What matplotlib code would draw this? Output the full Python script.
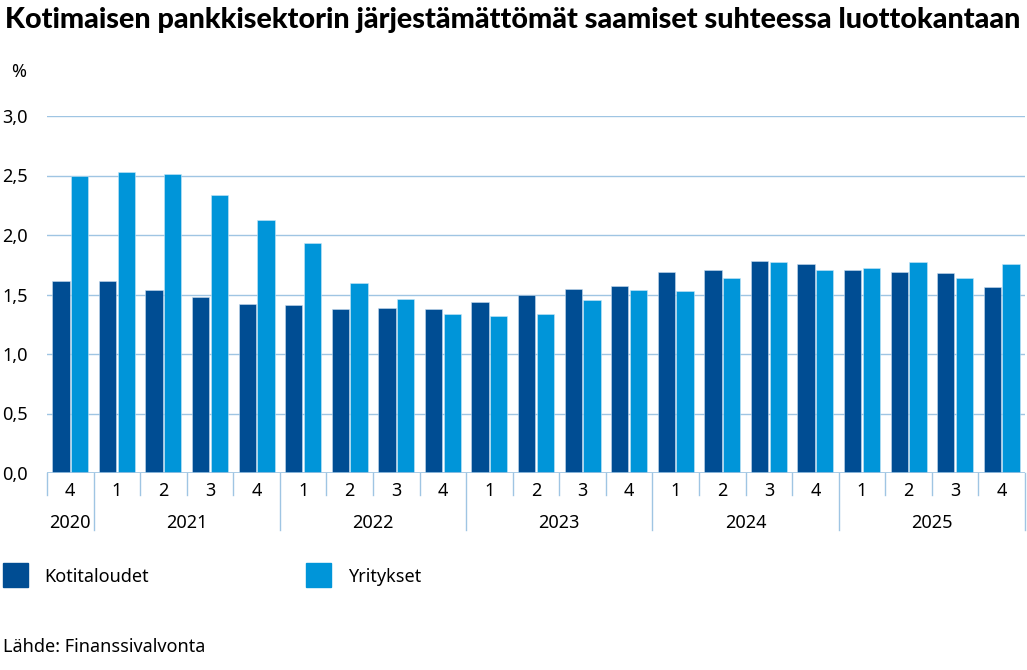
import matplotlib.pyplot as plt
import matplotlib.transforms as mtransforms
import numpy as np

plt.rcParams['font.family'] = ['Noto Sans', 'DejaVu Sans']

quarters = ['4', '1', '2', '3', '4', '1', '2', '3', '4', '1', '2', '3', '4',
            '1', '2', '3', '4', '1', '2', '3', '4']
years = ['2020', '2021', '2022', '2023', '2024', '2025']
year_start = [0, 1, 5, 9, 13, 17]
year_end = [0, 4, 8, 12, 16, 20]

kotitaloudet = [1.61, 1.61, 1.54, 1.48, 1.42, 1.41, 1.38, 1.39, 1.38, 1.44, 1.50,
                1.55, 1.57, 1.69, 1.71, 1.78, 1.76, 1.71, 1.69, 1.68, 1.56]
yritykset = [2.50, 2.53, 2.51, 2.34, 2.13, 1.93, 1.60, 1.46, 1.34, 1.32, 1.34,
             1.45, 1.54, 1.53, 1.64, 1.77, 1.71, 1.72, 1.77, 1.64, 1.76]

dark = '#004d93'
light = '#0095d9'
gridc = '#9fc5e3'
fs = 13

W, H = 1027, 670
fig = plt.figure(figsize=(W / 100, H / 100), dpi=100)
ax = fig.add_axes([47 / W, (H - 473) / H, (1025 - 47) / W, (473 - 116) / H])

x = np.arange(len(quarters))
bw = 0.37
ax.bar(x - 0.2, kotitaloudet, width=bw, color=dark, edgecolor='#c8dcee', linewidth=0.4, zorder=3)
ax.bar(x + 0.2, yritykset, width=bw, color=light, edgecolor='#c8e6f6', linewidth=0.4, zorder=3)

ax.set_xlim(-0.5, len(quarters) - 0.5)
ax.set_ylim(0, 3.0)
ax.set_yticks(np.arange(0, 3.01, 0.5))
ax.set_yticklabels([f'{v:.1f}'.replace('.', ',') for v in np.arange(0, 3.01, 0.5)], fontsize=fs)
ax.tick_params(axis='y', length=0, pad=14)
ax.set_xticks([])
ax.grid(axis='y', color=gridc, linewidth=1, zorder=0)
for s in ax.spines.values():
    s.set_visible(False)
ax.axhline(0, color=gridc, linewidth=1.2, zorder=4)

trans = mtransforms.blended_transform_factory(ax.transData, ax.transAxes)
quarter_len = -22 / 357
year_len = -57 / 357
long_edges = set([e + 0.5 for e in year_end])
for b in np.arange(-0.5, len(quarters)):
    bottom = year_len if b in long_edges else quarter_len
    ax.plot([b, b], [0, bottom], transform=trans, color=gridc, linewidth=1, clip_on=False)

for i, q in enumerate(quarters):
    ax.text(i, -18 / 357, q, transform=trans, ha='center', va='center', fontsize=fs)
for y, s, e in zip(years, year_start, year_end):
    ax.text((s + e) / 2, -50 / 357, y, transform=trans, ha='center', va='center', fontsize=fs)

fig.text(5 / W, 1 - 20 / H, 'Kotimaisen pankkisektorin järjestämättömät saamiset suhteessa luottokantaan',
         fontsize=20.7, fontweight='black', family=['Lato', 'DejaVu Sans'], va='center', ha='left')
fig.text(11 / W, 1 - 72 / H, '%', fontsize=fs, va='center', ha='left')

# legend
fig.patches.append(plt.Rectangle((3 / W, 1 - 587 / H), 25 / W, 24 / H, transform=fig.transFigure,
                                 color=dark, figure=fig))
fig.text(44 / W, 1 - 577 / H, 'Kotitaloudet', fontsize=fs, va='center', ha='left')
fig.patches.append(plt.Rectangle((306 / W, 1 - 587 / H), 25 / W, 24 / H, transform=fig.transFigure,
                                 color=light, figure=fig))
fig.text(348 / W, 1 - 577 / H, 'Yritykset', fontsize=fs, va='center', ha='left')

fig.text(3 / W, 1 - 647 / H, 'Lähde: Finanssivalvonta', fontsize=fs, va='center', ha='left')

fig.savefig('out.png', dpi=100)
